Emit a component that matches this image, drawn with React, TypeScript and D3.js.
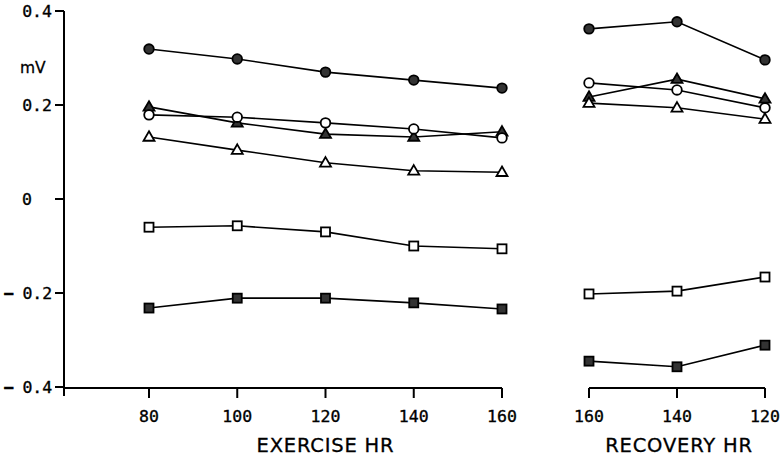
import React from "react";
import * as d3 from "d3";

const exerciseHR = [80, 100, 120, 140, 160];
const recoveryHR = [160, 140, 120];
const yTicks = [0.4, 0.2, 0, -0.2, -0.4];
const yTickLabels = ["0.4", "0.2", "0", "-0.2", "-0.4"];

type Marker = "filledCircle" | "openCircle" | "filledTriangle" | "openTriangle" | "openSquare" | "filledSquare";

const seriesMarkers: Marker[] = ["filledCircle", "filledTriangle", "openCircle", "openTriangle", "openSquare", "filledSquare"];
const exerciseValues = [
  [0.319, 0.298, 0.27, 0.253, 0.236],
  [0.196, 0.162, 0.138, 0.132, 0.143],
  [0.179, 0.174, 0.162, 0.149, 0.13],
  [0.132, 0.104, 0.077, 0.06, 0.057],
  [-0.06, -0.057, -0.07, -0.1, -0.106],
  [-0.232, -0.211, -0.211, -0.221, -0.234],
];
const recoveryValues = [
  [0.362, 0.377, 0.296],
  [0.217, 0.255, 0.213],
  [0.247, 0.232, 0.194],
  [0.204, 0.194, 0.17],
  [-0.202, -0.196, -0.166],
  [-0.345, -0.357, -0.311],
];

const FONT_MONO = "'DejaVu Sans Mono', monospace";
const FONT_SANS = "'DejaVu Sans', sans-serif";

function MarkerShape({ type, x, y }: { type: Marker; x: number; y: number }) {
  const sw = 1.8;
  const dark = "#333";
  if (type === "filledCircle" || type === "openCircle") {
    return <circle cx={x} cy={y} r={4.8} fill={type === "filledCircle" ? dark : "#fff"} stroke="#000" strokeWidth={sw} />;
  }
  if (type === "filledSquare" || type === "openSquare") {
    const s = 9;
    return <rect x={x - s / 2} y={y - s / 2} width={s} height={s} fill={type === "filledSquare" ? dark : "#fff"} stroke="#000" strokeWidth={sw} />;
  }
  const h = 9.5, w = 11;
  const d = `M${x},${y - h * 0.6}L${x + w / 2},${y + h * 0.4}L${x - w / 2},${y + h * 0.4}Z`;
  return <path d={d} fill={type === "filledTriangle" ? dark : "#fff"} stroke="#000" strokeWidth={sw} strokeLinejoin="miter" />;
}

export default function App() {
  const y = d3.scaleLinear().domain([0.4, -0.4]).range([11, 387]);
  const xe = d3.scaleLinear().domain([80, 160]).range([149, 502]);
  const xr = d3.scaleLinear().domain([160, 120]).range([589, 765]);
  const axisY = 388;
  const line = d3.line<[number, number]>().x((d) => d[0]).y((d) => d[1]);
  const txt = { fontFamily: FONT_MONO, fontSize: 16.5, fill: "#000", stroke: "#000", strokeWidth: 0.35 };

  return (
    <svg width={782} height={459} style={{ position: "absolute", left: 0, top: 0, background: "#fff" }}>
      {/* y axis */}
      <line x1={64} x2={64} y1={y(0.4)} y2={396} stroke="#000" strokeWidth={2} />
      {yTicks.map((t, i) => {
        const label = yTickLabels[i];
        const neg = label.startsWith("-");
        return (
          <g key={t}>
            <line x1={55} x2={64} y1={y(t)} y2={y(t)} stroke="#000" strokeWidth={2} />
            {t === 0 ? (
              <text x={22} y={y(t) + 6} {...txt}>{label}</text>
            ) : neg ? (
              <text x={4} y={y(t) + 6} {...txt}>
                <tspan fontWeight="bold" strokeWidth={0.6}>{"\u2212"}</tspan>
                <tspan dx={8.5}>{label.slice(1)}</tspan>
              </text>
            ) : (
              <text x={52} y={y(t) + 6} textAnchor="end" {...txt}>{label}</text>
            )}
          </g>
        );
      })}
      <text x={20} y={73} fontFamily={FONT_SANS} fontSize={15.5} fill="#000" stroke="#000" strokeWidth={0.3}>mV</text>

      {/* exercise axis */}
      <line x1={64} x2={xe(160)} y1={axisY} y2={axisY} stroke="#000" strokeWidth={2} />
      {exerciseHR.map((t) => (
        <g key={t}>
          <line x1={xe(t)} x2={xe(t)} y1={axisY} y2={axisY + 10} stroke="#000" strokeWidth={2} />
          <text x={xe(t)} y={422} textAnchor="middle" {...txt}>{t}</text>
        </g>
      ))}
      <text x={xe(120)} y={452} textAnchor="middle" fontFamily={FONT_SANS} fontSize={19.5} letterSpacing={0.8} fill="#000" stroke="#000" strokeWidth={0.3}>EXERCISE HR</text>

      {/* recovery axis */}
      <line x1={xr(160)} x2={xr(120)} y1={axisY} y2={axisY} stroke="#000" strokeWidth={2} />
      {recoveryHR.map((t) => (
        <g key={t}>
          <line x1={xr(t)} x2={xr(t)} y1={axisY} y2={axisY + 10} stroke="#000" strokeWidth={2} />
          <text x={xr(t)} y={422} textAnchor="middle" {...txt}>{t}</text>
        </g>
      ))}
      <text x={679} y={452} textAnchor="middle" fontFamily={FONT_SANS} fontSize={19.5} letterSpacing={0.8} fill="#000" stroke="#000" strokeWidth={0.3}>RECOVERY HR</text>

      {/* series lines */}
      {seriesMarkers.map((m, si) => {
        const ePts = exerciseHR.map((h, i) => [xe(h), y(exerciseValues[si][i])] as [number, number]);
        const rPts = recoveryHR.map((h, i) => [xr(h), y(recoveryValues[si][i])] as [number, number]);
        return (
          <g key={m}>
            <path d={line(ePts) || ""} fill="none" stroke="#000" strokeWidth={1.6} />
            <path d={line(rPts) || ""} fill="none" stroke="#000" strokeWidth={1.6} />
          </g>
        );
      })}
      {seriesMarkers.map((m, si) => (
        <g key={m + "-pts"}>
          {exerciseHR.map((h, i) => (
            <MarkerShape key={"e" + i} type={m} x={xe(h)} y={y(exerciseValues[si][i])} />
          ))}
          {recoveryHR.map((h, i) => (
            <MarkerShape key={"r" + i} type={m} x={xr(h)} y={y(recoveryValues[si][i])} />
          ))}
        </g>
      ))}
    </svg>
  );
}
